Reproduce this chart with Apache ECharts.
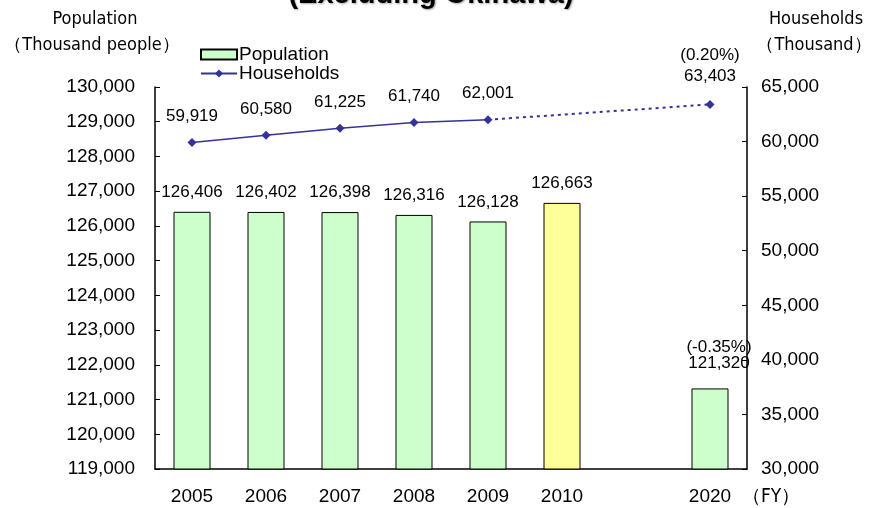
<!DOCTYPE html>
<html>
<head>
<meta charset="utf-8">
<script src="https://cdn.jsdelivr.net/npm/echarts@6/dist/echarts.min.js"></script>
<style>
  html, body { margin: 0; padding: 0; background: #fff; }
  #chart { width: 874px; height: 508px; }
</style>
</head>
<body>
<div id="chart"></div>
<script>
// Fiscal years on the category axis (one empty slot stands for the gap before 2020)
const years = ['2005', '2006', '2007', '2008', '2009', '2010', '', '2020'];
// Population, thousand people
const population = [126406, 126402, 126398, 126316, 126128, 126663, null, 121320];
// Households, thousand (actuals up to 2009, projection for 2020)
const householdsActual = [59919, 60580, 61225, 61740, 62001, null, null, null];
const householdsProjected = [null, null, null, null, 62001, null, null, 63403];
// Annual change rates shown with the 2020 figures
const popChange2020 = '-0.35%';
const hhChange2020 = '0.20%';
// Axis ranges
const popAxis = { min: 119000, max: 130000, step: 1000 };
const hhAxis = { min: 30000, max: 65000, step: 5000 };

const FONT = '"Liberation Sans", Arial, sans-serif';
const NARROW = '"Liberation Sans Narrow", "DejaVu Sans Condensed", "Liberation Sans", sans-serif';
const LINE_COLOR = '#333399';
const fmt = v => Number(v).toLocaleString('en-US');

const chart = echarts.init(document.getElementById('chart'), null, { renderer: 'canvas' });

const barData = population.map((v, i) => {
  if (v == null) return '-';
  const item = { value: v };
  if (years[i] === '2010') item.itemStyle = { color: '#FFFF99' };
  if (years[i] === '2020') {
    item.label = {
      formatter: p => '(' + popChange2020 + ')\n' + fmt(p.value),
      lineHeight: 16,
      offset: [9, -6]
    };
  }
  return item;
});

const projData = householdsProjected.map((v, i) => {
  if (v == null) return '-';
  if (years[i] === '2020') {
    return {
      value: v,
      label: {
        show: true,
        formatter: p => '(' + hhChange2020 + ')\n' + fmt(p.value),
        lineHeight: 21
      }
    };
  }
  return { value: v, symbol: 'none', label: { show: false } };
});

chart.setOption({
  animation: false,
  textStyle: { fontFamily: FONT, color: '#000' },
  grid: { left: 155, right: 127, top: 87, bottom: 39, containLabel: false },
  legend: {
    orient: 'vertical',
    left: 195,
    top: 40,
    itemWidth: 36,
    itemHeight: 10,
    itemGap: 0,
    textStyle: { fontSize: 19, fontFamily: FONT, color: '#000', lineHeight: 19, padding: [0, 0, 0, -3] },
    data: [
      { name: 'Population', icon: 'rect' },
      { name: 'Households' }
    ]
  },
  xAxis: {
    type: 'category',
    data: years,
    boundaryGap: true,
    axisLine: { lineStyle: { color: '#000', width: 1.5 } },
    axisTick: { inside: true, length: 5, interval: 0, lineStyle: { color: '#000' } },
    axisLabel: { interval: 0, fontSize: 19, color: '#000', margin: 18, fontFamily: FONT },
    splitLine: { show: false }
  },
  yAxis: [
    {
      type: 'value',
      min: popAxis.min,
      max: popAxis.max,
      interval: popAxis.step,
      position: 'left',
      axisLine: { show: true, lineStyle: { color: '#000', width: 1.5 } },
      axisTick: { show: true, inside: true, length: 5, lineStyle: { color: '#000' } },
      axisLabel: { fontSize: 19, color: '#000', margin: 20, formatter: v => fmt(v), fontFamily: FONT },
      splitLine: { show: false }
    },
    {
      type: 'value',
      min: hhAxis.min,
      max: hhAxis.max,
      interval: hhAxis.step,
      position: 'right',
      axisLine: { show: true, lineStyle: { color: '#000', width: 1.5 } },
      axisTick: { show: true, inside: true, length: 5, lineStyle: { color: '#000' } },
      axisLabel: { fontSize: 19, color: '#000', margin: 14, formatter: v => fmt(v), fontFamily: FONT },
      splitLine: { show: false }
    }
  ],
  series: [
    {
      name: 'Population',
      type: 'bar',
      yAxisIndex: 0,
      barWidth: '50%',
      data: barData,
      itemStyle: { color: '#CCFFCC', borderColor: '#000', borderWidth: 1 },
      label: {
        show: true,
        position: 'top',
        distance: 11,
        fontSize: 17,
        color: '#000',
        fontFamily: FONT,
        formatter: p => fmt(p.value)
      },
      z: 2
    },
    {
      name: 'Households',
      type: 'line',
      yAxisIndex: 1,
      data: householdsActual.map(v => (v == null ? '-' : v)),
      symbol: 'diamond',
      symbolSize: 9,
      lineStyle: { color: LINE_COLOR, width: 1.5 },
      itemStyle: { color: LINE_COLOR },
      label: {
        show: true,
        position: 'top',
        distance: 13,
        fontSize: 17,
        color: '#000',
        fontFamily: FONT,
        formatter: p => fmt(p.value)
      },
      z: 4
    },
    {
      name: 'Households projection',
      type: 'line',
      yAxisIndex: 1,
      data: projData,
      connectNulls: true,
      symbol: 'diamond',
      symbolSize: 9,
      lineStyle: { color: LINE_COLOR, width: 2, type: [3, 4] },
      itemStyle: { color: LINE_COLOR },
      label: {
        position: 'top',
        distance: 13,
        fontSize: 17,
        color: '#000',
        fontFamily: FONT
      },
      z: 3
    }
  ],
  graphic: [
    {
      type: 'text',
      x: 431, y: -5,
      style: {
        text: '(Excluding Okinawa)',
        font: 'bold 29px ' + FONT,
        fill: '#000',
        align: 'center',
        verticalAlign: 'middle',
        textShadowColor: 'rgba(0,0,0,0.35)',
        textShadowBlur: 2,
        textShadowOffsetX: 1,
        textShadowOffsetY: 1
      }
    },
    {
      type: 'text', x: 95, y: 19,
      style: { text: 'Population', font: '18px ' + NARROW, fill: '#000', align: 'center', verticalAlign: 'middle' }
    },
    {
      type: 'text', x: 92, y: 45,
      style: { text: '（Thousand people）', font: '18px ' + NARROW, fill: '#000', align: 'center', verticalAlign: 'middle' }
    },
    {
      type: 'text', x: 816, y: 19,
      style: { text: 'Households', font: '18px ' + NARROW, fill: '#000', align: 'center', verticalAlign: 'middle' }
    },
    {
      type: 'text', x: 814, y: 45,
      style: { text: '（Thousand）', font: '18px ' + NARROW, fill: '#000', align: 'center', verticalAlign: 'middle' }
    },
    {
      type: 'text', x: 742, y: 497,
      style: { text: '（FY）', font: '19px ' + NARROW, fill: '#000', align: 'left', verticalAlign: 'middle' }
    }
  ]
});
</script>
</body>
</html>
